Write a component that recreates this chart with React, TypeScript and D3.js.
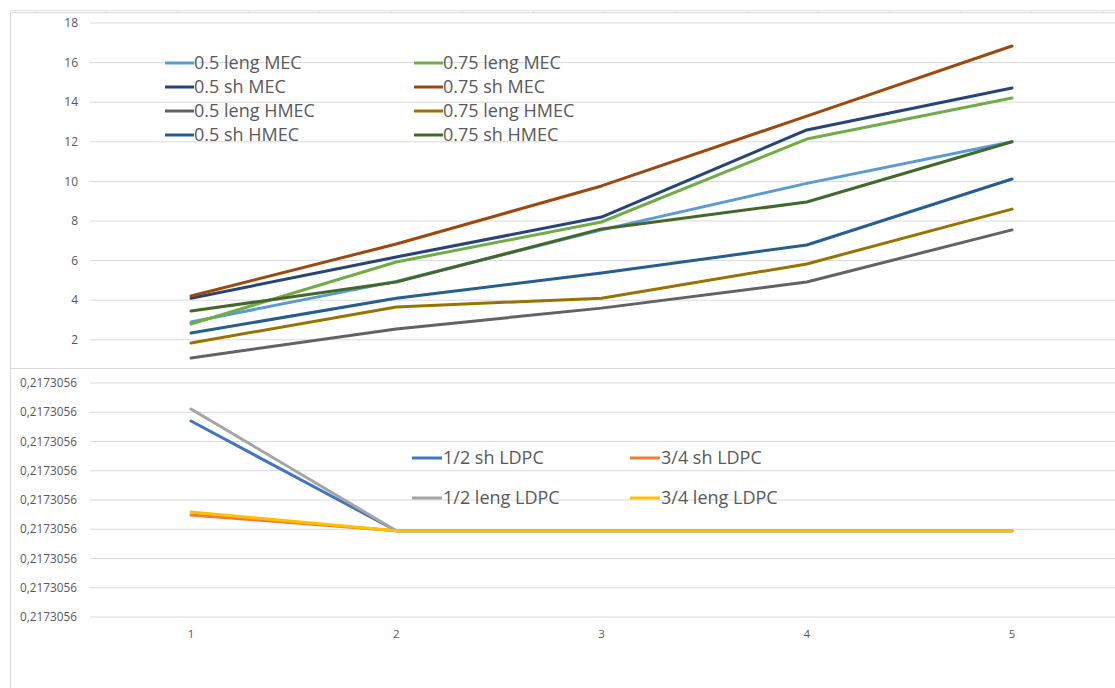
import React from "react";
import * as d3 from "d3";

const categories = [1, 2, 3, 4, 5];

// Top chart series
const topSeriesNames = [
  "0.5 leng MEC", "0.75 leng MEC",
  "0.5 sh MEC", "0.75 sh MEC",
  "0.5 leng HMEC", "0.75 leng HMEC",
  "0.5 sh HMEC", "0.75 sh HMEC",
];
const topColors = [
  "#5B9BD5", "#70AD47",
  "#264478", "#9E480E",
  "#636363", "#997300",
  "#255E91", "#43682B",
];
const v05lengMEC = [2.9, 4.95, 7.55, 9.9, 12.0];
const v075lengMEC = [2.8, 5.93, 7.95, 12.14, 14.21];
const v05shMEC = [4.1, 6.18, 8.2, 12.6, 14.72];
const v075shMEC = [4.21, 6.84, 9.77, 13.3, 16.84];
const v05lengHMEC = [1.08, 2.55, 3.6, 4.92, 7.55];
const v075lengHMEC = [1.84, 3.66, 4.1, 5.83, 8.6];
const v05shHMEC = [2.34, 4.1, 5.37, 6.79, 10.12];
const v075shHMEC = [3.45, 4.92, 7.6, 8.96, 12.0];
const topValues = [
  v05lengMEC, v075lengMEC, v05shMEC, v075shMEC,
  v05lengHMEC, v075lengHMEC, v05shHMEC, v075shHMEC,
];
const topTicks = [2, 4, 6, 8, 10, 12, 14, 16, 18];

// Bottom chart series (values differ only in far decimals)
const bottomSeriesNames = ["1/2 sh LDPC", "3/4 sh LDPC", "1/2 leng LDPC", "3/4 leng LDPC"];
const bottomColors = ["#4472C4", "#ED7D31", "#A5A5A5", "#FFC000"];
const halfShLDPC = [0.217305606700, 0.217305602950, 0.217305602950, 0.217305602950, 0.217305602950];
const threeQShLDPC = [0.217305603490, 0.217305602950, 0.217305602950, 0.217305602950, 0.217305602950];
const halfLengLDPC = [0.217305607110, 0.217305602950, 0.217305602950, 0.217305602950, 0.217305602950];
const threeQLengLDPC = [0.217305603590, 0.217305602950, 0.217305602950, 0.217305602950, 0.217305602950];
const bottomValues = [halfShLDPC, threeQShLDPC, halfLengLDPC, threeQLengLDPC];
const bottomBase = 0.2173056;
const bottomStep = 1e-9;
const bottomTicks = d3.range(0, 9).map((k) => bottomBase + k * bottomStep);

const FONT = "'Open Sans', 'Liberation Sans', sans-serif";
const TEXT = "#595959";
const GRID = "#D9D9D9";

export default function App() {
  const W = 1115;
  const H = 688;

  const x = d3.scalePoint<number>().domain(categories).range([191, 1012]);

  // top chart
  const yTop = d3.scaleLinear().domain([0, 18]).range([379.4, 23]);
  // bottom chart
  const yBot = d3.scaleLinear().domain([bottomTicks[0], bottomTicks[8]]).range([617, 383]);

  const lineTop = d3
    .line<number>()
    .x((_, i) => x(categories[i]) as number)
    .y((d) => yTop(d));
  const lineBot = d3
    .line<number>()
    .x((_, i) => x(categories[i]) as number)
    .y((d) => yBot(d));

  const fmtBot = (v: number) => d3.format(".7f")(v).replace(".", ",");

  const cellXs = d3.range(0, 16).map((k) => 35 + k * 71.2).filter((v) => v < W);

  return (
    <svg
      width={W}
      height={H}
      style={{ position: "absolute", left: 0, top: 0, background: "#fff" }}
    >
      <rect x={0} y={0} width={W} height={H} fill="#fff" />
      {/* spreadsheet cell strip */}
      <line x1={10} x2={W} y1={10.5} y2={10.5} stroke="#E3E3E3" />
      {cellXs.map((cx) => (
        <line key={cx} x1={cx} x2={cx} y1={10} y2={13} stroke="#E3E3E3" />
      ))}
      {/* top chart frame */}
      <rect x={10.5} y={12.5} width={W} height={370} fill="#fff" stroke={GRID} />
      <g>
        {topTicks.map((t) => (
          <g key={t}>
            <line x1={90} x2={W} y1={yTop(t)} y2={yTop(t)} stroke={GRID} strokeWidth={1} />
            <text
              x={78}
              y={yTop(t)}
              dy="0.35em"
              textAnchor="end"
              fontFamily={FONT}
              fontSize={12}
              fill={TEXT}
            >
              {t}
            </text>
          </g>
        ))}
        {topValues.map((vals, i) => (
          <path
            key={topSeriesNames[i]}
            d={lineTop(vals) || ""}
            fill="none"
            stroke={topColors[i]}
            strokeWidth={3}
            strokeLinecap="round"
            strokeLinejoin="round"
          />
        ))}
        {/* legend */}
        {topSeriesNames.map((name, i) => {
          const col = i % 2;
          const row = Math.floor(i / 2);
          const lx = col === 0 ? 165 : 414;
          const ly = 63 + row * 24;
          return (
            <g key={name}>
              <line x1={lx} x2={lx + 29} y1={ly} y2={ly} stroke={topColors[i]} strokeWidth={3} />
              <text
                x={lx + 29}
                y={ly}
                dy="0.36em"
                fontFamily={FONT}
                fontSize={18}
                fill={TEXT}
              >
                {name}
              </text>
            </g>
          );
        })}
      </g>
      {/* bottom chart frame */}
      <rect x={10.5} y={368.5} width={W} height={H} fill="#fff" stroke={GRID} />
      <g>
        {bottomTicks.map((t, k) => (
          <g key={k}>
            <line x1={90} x2={W} y1={yBot(t)} y2={yBot(t)} stroke={GRID} strokeWidth={1} />
            <text
              x={20}
              y={yBot(t)}
              dy="0.35em"
              textAnchor="start"
              fontFamily={FONT}
              fontSize={11.8}
              fill={TEXT}
            >
              {fmtBot(t)}
            </text>
          </g>
        ))}
        {categories.map((c) => (
          <text
            key={c}
            x={x(c)}
            y={634}
            dy="0.35em"
            textAnchor="middle"
            fontFamily={FONT}
            fontSize={11.5}
            fill={TEXT}
          >
            {c}
          </text>
        ))}
        {bottomValues.map((vals, i) => (
          <path
            key={bottomSeriesNames[i]}
            d={lineBot(vals) || ""}
            fill="none"
            stroke={bottomColors[i]}
            strokeWidth={3}
            strokeLinecap="round"
            strokeLinejoin="round"
          />
        ))}
        {bottomSeriesNames.map((name, i) => {
          const col = i % 2;
          const row = Math.floor(i / 2);
          const lx = col === 0 ? 412 : 630;
          const ly = 458 + row * 40;
          return (
            <g key={name}>
              <line x1={lx} x2={lx + 30} y1={ly} y2={ly} stroke={bottomColors[i]} strokeWidth={3} />
              <text
                x={lx + 31}
                y={ly}
                dy="0.36em"
                fontFamily={FONT}
                fontSize={18}
                fill={TEXT}
              >
                {name}
              </text>
            </g>
          );
        })}
      </g>
    </svg>
  );
}
